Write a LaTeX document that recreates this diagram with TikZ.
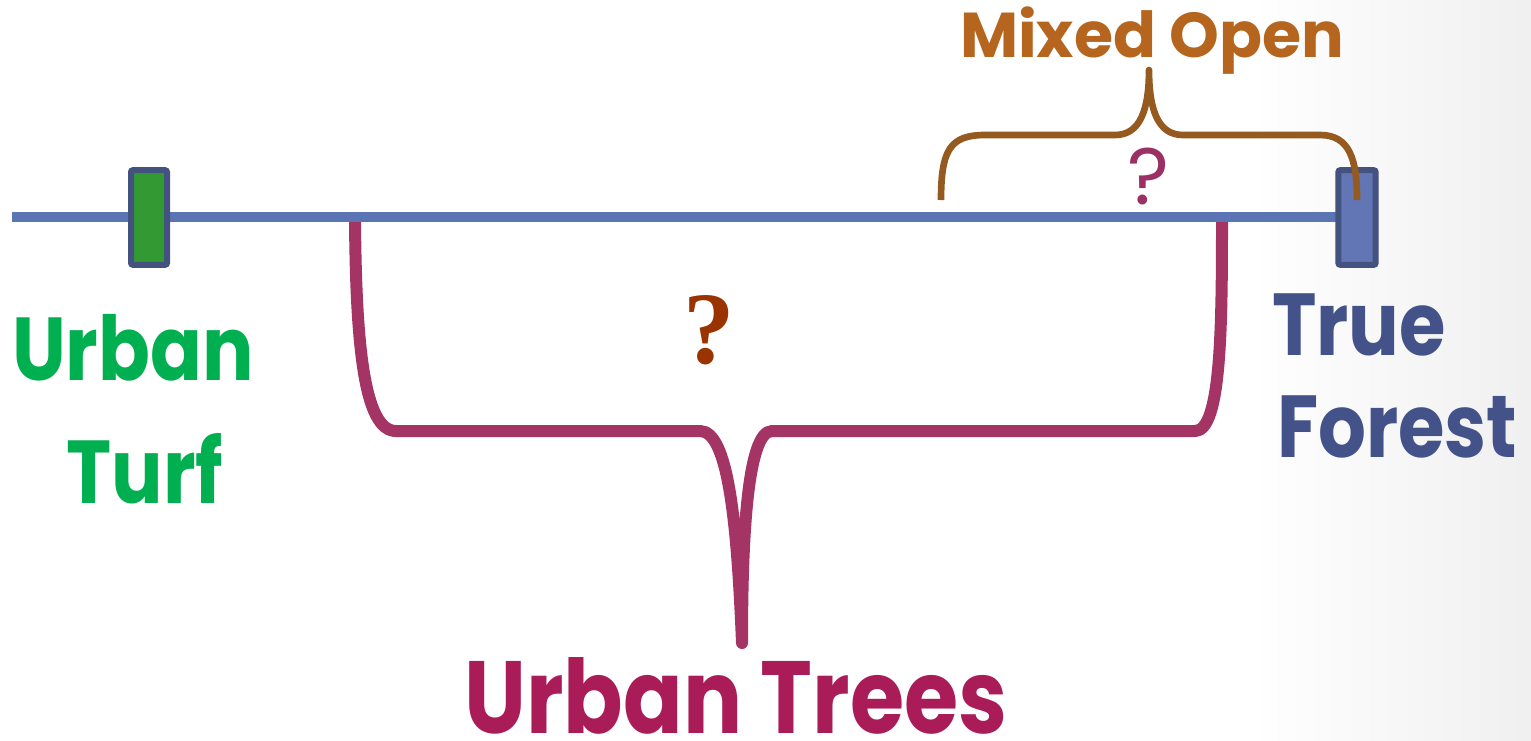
\documentclass[tikz,border=0pt]{standalone}
\usepackage{fontspec}
\newfontfamily\popn{Poppins}[UprightFont={* Bold}, FakeStretch=0.855]
\newfontfamily\popm{Poppins}[UprightFont={* Bold}]
\newfontfamily\pop{Poppins}
\newfontfamily\libserif{Liberation Serif}
\definecolor{urbgreen}{HTML}{00B050}
\definecolor{forestblue}{HTML}{44528A}
\definecolor{mixedbrown}{HTML}{B5651D}
\definecolor{treespink}{HTML}{AA1C58}
\definecolor{axisblue}{HTML}{5B74B4}
\definecolor{markerborder}{HTML}{43527F}
\definecolor{markergreen}{HTML}{339933}
\definecolor{markerblue}{HTML}{6276B5}
\definecolor{bracepink}{HTML}{A33464}
\definecolor{bracebrown}{HTML}{945A1F}
\definecolor{qpink}{HTML}{9B3064}
\definecolor{qbrown}{HTML}{993300}
\newcommand{\gothic}[1]{\popn\fontsize{#1}{#1}\selectfont}
\newcommand{\gothicwide}[1]{\popm\fontsize{#1}{#1}\selectfont}
\newcommand{\gothicmed}[1]{\pop\fontsize{#1}{#1}\selectfont}
\newcommand{\serifq}[1]{\libserif\bfseries\fontsize{#1}{#1}\selectfont}
\tikzset{
  lbl/.style={inner sep=0pt, outer sep=0pt},
  marker/.style={draw=markerborder, line width=4.5pt, rounded corners=1.5pt},
  axis/.style={draw=axisblue, line width=7.5pt},
  pinkbrace/.style={draw=bracepink, line width=9pt, line join=round, line cap=butt},
  brownbrace/.style={draw=bracebrown, line width=5pt, line join=round, line cap=butt},
}
\begin{document}
\begin{tikzpicture}[x=0.75pt,y=-0.75pt]
\useasboundingbox (0,0) rectangle (1531,740);
\fill[white] (0,0) rectangle (1531,740);
\shade[left color=white,right color=black!6] (1250,0) rectangle (1531,740);

% pink brace (under the axis)
\draw[pinkbrace] (355,220) .. controls (356,345) and (364,431) .. (396,431)
  -- (700,431) .. controls (728,431) and (737,520) .. (742,643)
  .. controls (742,540) and (747,431) .. (772,431)
  -- (1195,431) .. controls (1221,431) and (1222,330) .. (1222,220);

% axis
\coordinate (axL) at (12,217);
\coordinate (axR) at (1345,217);
\draw[axis] (axL) -- (axR);

% markers
\node[marker, fill=markergreen, minimum width=27pt, minimum height=71pt, lbl, draw] (turfmark) at (149,217.5) {};
\node[marker, fill=markerblue, minimum width=28pt, minimum height=71pt, lbl, draw] (forestmark) at (1357,217.5) {};

% brown brace (over the marker)
\draw[brownbrace] (941,200) .. controls (941,150) and (950,135) .. (985,135)
  -- (1115,135) .. controls (1140,135) and (1149,110) .. (1149,70)
  .. controls (1149,110) and (1158,135) .. (1183,135)
  -- (1320,135) .. controls (1350,135) and (1357,160) .. (1357,200);

% labels
\node[lbl, anchor=base, text=urbgreen] (urban) at (133,380) {\gothic{67pt}Urban};
\node[lbl, anchor=base, text=urbgreen] (turf) at (145,503) {\gothic{67pt}Turf};
\node[lbl, anchor=base west, text=forestblue] (true) at (1272,355) {\gothic{66pt}True};
\node[lbl, anchor=base west, text=forestblue] (forest) at (1277,457) {\gothic{66pt}Forest};
\node[lbl, anchor=base, text=treespink, text depth=0pt] (trees) at (736,733) {\gothic{77pt}Urban Trees};
\node[lbl, anchor=base, text=mixedbrown] (mixed) at (1152,57) {\gothicwide{47.5pt}Mixed Open};
\node[lbl, anchor=base, text=qpink] (qsmall) at (1148,204) {\gothicmed{60pt}?};
\node[lbl, anchor=base, text=qbrown] (qbig) at (709,363) {\serifq{77pt}?};
\end{tikzpicture}
\end{document}
